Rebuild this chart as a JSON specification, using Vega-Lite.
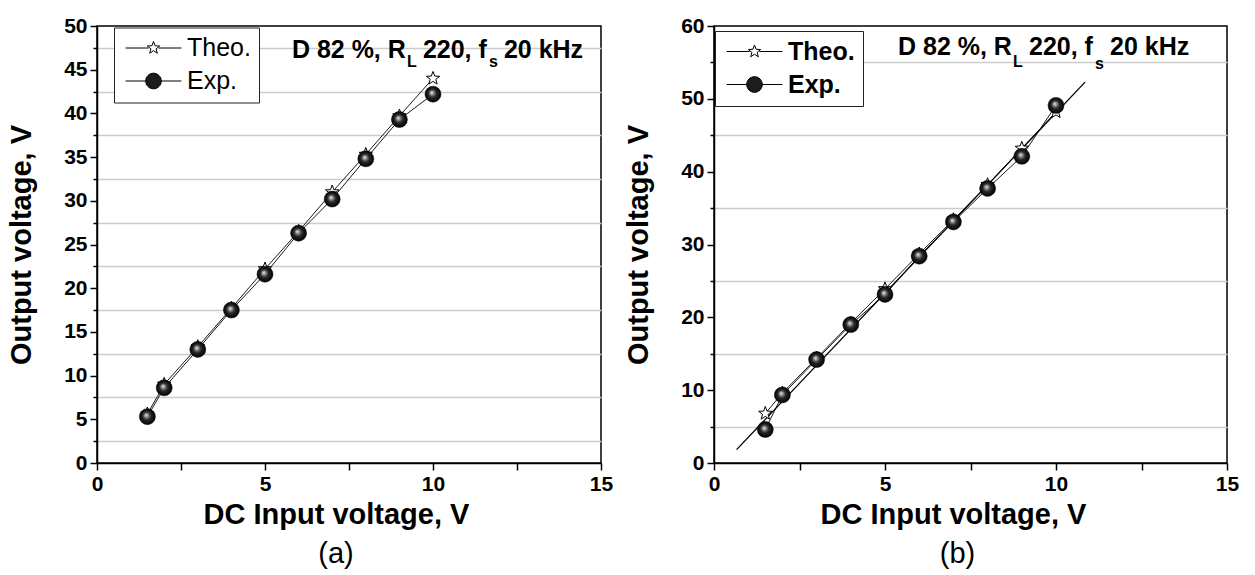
{
  "$schema": "https://vega.github.io/schema/vega-lite/v6.json",
  "background": "white",
  "padding": {"left": 6, "top": 14, "right": 5, "bottom": 0},
  "spacing": 9,
  "resolve": {
    "scale": {"shape": "independent", "fill": "independent", "stroke": "independent"},
    "legend": {"shape": "independent", "fill": "independent", "stroke": "independent"}
  },
  "datasets": {
    "a": [
      {"vin": 1.5, "vout": 5.6, "series": "Theo."},
      {"vin": 2, "vout": 9.0, "series": "Theo."},
      {"vin": 3, "vout": 13.3, "series": "Theo."},
      {"vin": 4, "vout": 17.7, "series": "Theo."},
      {"vin": 5, "vout": 22.2, "series": "Theo."},
      {"vin": 6, "vout": 26.5, "series": "Theo."},
      {"vin": 7, "vout": 31.0, "series": "Theo."},
      {"vin": 8, "vout": 35.3, "series": "Theo."},
      {"vin": 9, "vout": 39.7, "series": "Theo."},
      {"vin": 10, "vout": 44.0, "series": "Theo."},
      {"vin": 1.5, "vout": 5.3, "series": "Exp."},
      {"vin": 2, "vout": 8.6, "series": "Exp."},
      {"vin": 3, "vout": 13.0, "series": "Exp."},
      {"vin": 4, "vout": 17.5, "series": "Exp."},
      {"vin": 5, "vout": 21.6, "series": "Exp."},
      {"vin": 6, "vout": 26.3, "series": "Exp."},
      {"vin": 7, "vout": 30.2, "series": "Exp."},
      {"vin": 8, "vout": 34.8, "series": "Exp."},
      {"vin": 9, "vout": 39.3, "series": "Exp."},
      {"vin": 10, "vout": 42.2, "series": "Exp."}
    ],
    "b": [
      {"vin": 1.5, "vout": 6.8, "series": "Theo."},
      {"vin": 2, "vout": 9.6, "series": "Theo."},
      {"vin": 3, "vout": 14.4, "series": "Theo."},
      {"vin": 4, "vout": 19.2, "series": "Theo."},
      {"vin": 5, "vout": 23.9, "series": "Theo."},
      {"vin": 6, "vout": 28.7, "series": "Theo."},
      {"vin": 7, "vout": 33.4, "series": "Theo."},
      {"vin": 8, "vout": 38.2, "series": "Theo."},
      {"vin": 9, "vout": 43.2, "series": "Theo."},
      {"vin": 10, "vout": 48.2, "series": "Theo."},
      {"vin": 1.5, "vout": 4.6, "series": "Exp."},
      {"vin": 2, "vout": 9.35, "series": "Exp."},
      {"vin": 3, "vout": 14.2, "series": "Exp."},
      {"vin": 4, "vout": 19.0, "series": "Exp."},
      {"vin": 5, "vout": 23.15, "series": "Exp."},
      {"vin": 6, "vout": 28.4, "series": "Exp."},
      {"vin": 7, "vout": 33.1, "series": "Exp."},
      {"vin": 8, "vout": 37.7, "series": "Exp."},
      {"vin": 9, "vout": 42.1, "series": "Exp."},
      {"vin": 10, "vout": 49.1, "series": "Exp."}
    ],
    "bfit": [
      {"vin": 0.66, "vout": 1.83, "series": "Fit"},
      {"vin": 10.85, "vout": 52.3, "series": "Fit"}
    ]
  },
  "config": {
    "font": "Liberation Sans",
    "view": {"stroke": "black", "strokeWidth": 1.5},
    "axis": {
      "domainColor": "black", "domainWidth": 1.5,
      "tickColor": "black", "tickWidth": 1.5,
      "labelFont": "Liberation Sans", "labelFontSize": 21, "labelFontWeight": "bold", "labelColor": "black", "labelPadding": 3,
      "labelFlush": false, "labelOverlap": false,
      "titleFont": "Liberation Sans", "titleFontSize": 29, "titleFontWeight": "bold", "titleColor": "black",
      "gridColor": "#cccccc", "gridWidth": 1.3
    },
    "title": {"font": "Liberation Sans", "fontSize": 29, "fontWeight": "normal", "color": "black"}
  },
  "hconcat": [
    {
      "width": 504,
      "height": 437,
      "title": {"text": "(a)", "orient": "bottom", "dx": -13, "offset": 11},
      "resolve": {"axis": {"y": "independent"}},
      "layer": [
        {
          "data": {"name": "a"},
          "mark": {"type": "line", "color": "black", "strokeWidth": 0.9},
          "encoding": {
            "x": {"field": "vin", "type": "quantitative", "scale": {"domain": [0, 15], "nice": false},
              "axis": {"title": "DC Input voltage, V", "values": [0, 2.5, 5, 7.5, 10, 12.5, 15], "labelExpr": "datum.value % 5 === 0 ? datum.label : ''", "tickSize": 7, "grid": false, "titleX": 239, "titlePadding": 6}},
            "y": {"field": "vout", "type": "quantitative", "scale": {"domain": [0, 50], "nice": false},
              "axis": {"orient": "left", "title": "Output voltage, V", "values": [0, 5, 10, 15, 20, 25, 30, 35, 40, 45, 50],
                "tickSize": 7, "grid": false, "titlePadding": 27}},
            "detail": {"field": "series"}
          }
        },
        {
          "data": {"name": "a"},
          "transform": [{"filter": "datum.series === 'Theo.'"}],
          "mark": {"type": "point", "shape": "M0,-1L0.247,-0.34L0.951,-0.309L0.399,0.13L0.588,0.809L0,0.42L-0.588,0.809L-0.399,0.13L-0.951,-0.309L-0.247,-0.34Z", "size": 196, "filled": true, "fill": "white", "stroke": "black", "strokeWidth": 1, "opacity": 1},
          "encoding": {"x": {"field": "vin", "type": "quantitative"}, "y": {"field": "vout", "type": "quantitative", "axis": null}}
        },
        {
          "data": {"name": "a"},
          "transform": [{"filter": "datum.series === 'Exp.'"}],
          "mark": {"type": "point", "shape": "circle", "size": 256, "filled": true, "opacity": 1, "stroke": "black", "strokeWidth": 0.5,
            "fill": {"gradient": "radial", "x1": 0.42, "y1": 0.4, "r1": 0, "x2": 0.5, "y2": 0.5, "r2": 0.5,
              "stops": [{"offset": 0, "color": "#f6f6f6"}, {"offset": 0.2, "color": "#9a9a9a"}, {"offset": 0.5, "color": "#2a2a2a"}, {"offset": 1, "color": "#000000"}]}},
          "encoding": {"x": {"field": "vin", "type": "quantitative"}, "y": {"field": "vout", "type": "quantitative", "axis": null}}
        },
        {
          "data": {"name": "a"},
          "transform": [{"filter": "datum.vout < 0"}],
          "mark": {"type": "point", "filled": true, "opacity": 1, "size": 169, "strokeWidth": 1},
          "encoding": {
            "x": {"field": "vin", "type": "quantitative"},
            "y": {"field": "vout", "type": "quantitative",
              "axis": {"orient": "left", "title": null, "values": [2.5, 7.5, 12.5, 17.5, 22.5, 27.5, 32.5, 37.5, 42.5, 47.5], "labels": false, "domain": false, "ticks": true, "tickSize": 4, "grid": true}},
            "shape": {"field": "series", "type": "nominal",
              "scale": {"domain": ["Theo.", "Exp."], "range": ["M-4.3,0H-0.75M0.75,0H4.3M0,-1L0.247,-0.34L0.951,-0.309L0.399,0.13L0.588,0.809L0,0.42L-0.588,0.809L-0.399,0.13L-0.951,-0.309L-0.247,-0.34Z", "M-4.3,0H-1.2M1.2,0H4.3M1.2,0A1.2,1.2,0,1,1,-1.2,0A1.2,1.2,0,1,1,1.2,0Z"]},
              "legend": {"title": null, "orient": "none", "legendX": 17, "legendY": 1.5, "direction": "vertical", "strokeColor": "#222", "fillColor": "white", "padding": 8, "rowPadding": 7, "labelFontSize": 25, "labelFont": "Liberation Sans", "labelFontWeight": "normal", "labelColor": "black", "symbolSize": 169, "symbolStrokeWidth": 1, "symbolOffset": 19, "labelOffset": 21, "labelLimit": 300}},
            "fill": {"field": "series", "type": "nominal",
              "scale": {"domain": ["Theo.", "Exp."], "range": ["white", "#1c1c1c"]},
              "legend": {"title": null, "orient": "none", "legendX": 17, "legendY": 1.5, "direction": "vertical", "strokeColor": "#222", "fillColor": "white", "padding": 8, "rowPadding": 7, "labelFontSize": 25, "labelFont": "Liberation Sans", "labelFontWeight": "normal", "labelColor": "black", "symbolSize": 169, "symbolStrokeWidth": 1, "symbolOffset": 19, "labelOffset": 21, "labelLimit": 300}},
            "stroke": {"field": "series", "type": "nominal",
              "scale": {"domain": ["Theo.", "Exp."], "range": ["black", "black"]},
              "legend": {"title": null, "orient": "none", "legendX": 17, "legendY": 1.5, "direction": "vertical", "strokeColor": "#222", "fillColor": "white", "padding": 8, "rowPadding": 7, "labelFontSize": 25, "labelFont": "Liberation Sans", "labelFontWeight": "normal", "labelColor": "black", "symbolSize": 169, "symbolStrokeWidth": 1, "symbolOffset": 19, "labelOffset": 21, "labelLimit": 300}}
          }
        },
        {
          "data": {"values": [{"t": "D 82 %, R"}]},
          "mark": {"type": "text", "align": "left", "baseline": "alphabetic", "fontSize": 25, "fontWeight": "bold", "color": "black", "dx": 0},
          "encoding": {"x": {"datum": 5.8}, "y": {"datum": 46.3, "axis": null}, "text": {"field": "t"}}
        },
        {
          "data": {"values": [{"t": "L"}]},
          "mark": {"type": "text", "align": "left", "baseline": "alphabetic", "fontSize": 16, "fontWeight": "bold", "color": "black", "dx": 115, "dy": 9},
          "encoding": {"x": {"datum": 5.8}, "y": {"datum": 46.3, "axis": null}, "text": {"field": "t"}}
        },
        {
          "data": {"values": [{"t": "220, f"}]},
          "mark": {"type": "text", "align": "left", "baseline": "alphabetic", "fontSize": 25, "fontWeight": "bold", "color": "black", "dx": 131},
          "encoding": {"x": {"datum": 5.8}, "y": {"datum": 46.3, "axis": null}, "text": {"field": "t"}}
        },
        {
          "data": {"values": [{"t": "s"}]},
          "mark": {"type": "text", "align": "left", "baseline": "alphabetic", "fontSize": 16, "fontWeight": "bold", "color": "black", "dx": 197, "dy": 9},
          "encoding": {"x": {"datum": 5.8}, "y": {"datum": 46.3, "axis": null}, "text": {"field": "t"}}
        },
        {
          "data": {"values": [{"t": "20 kHz"}]},
          "mark": {"type": "text", "align": "left", "baseline": "alphabetic", "fontSize": 25, "fontWeight": "bold", "color": "black", "dx": 212},
          "encoding": {"x": {"datum": 5.8}, "y": {"datum": 46.3, "axis": null}, "text": {"field": "t"}}
        }
      ]
    },
    {
      "width": 513,
      "height": 437,
      "title": {"text": "(b)", "orient": "bottom", "dx": -13, "offset": 11},
      "resolve": {"axis": {"y": "independent"}},
      "layer": [
        {
          "data": {"name": "b"},
          "mark": {"type": "line", "color": "black", "strokeWidth": 0.9},
          "encoding": {
            "x": {"field": "vin", "type": "quantitative", "scale": {"domain": [0, 15], "nice": false},
              "axis": {"title": "DC Input voltage, V", "values": [0, 2.5, 5, 7.5, 10, 12.5, 15], "labelExpr": "datum.value % 5 === 0 ? datum.label : ''", "tickSize": 7, "grid": false, "titleX": 239, "titlePadding": 6}},
            "y": {"field": "vout", "type": "quantitative", "scale": {"domain": [0, 60], "nice": false},
              "axis": {"orient": "left", "title": "Output voltage, V", "values": [0, 10, 20, 30, 40, 50, 60],
                "tickSize": 7, "grid": false, "titlePadding": 27}},
            "detail": {"field": "series"}
          }
        },
        {
          "data": {"name": "bfit"},
          "mark": {"type": "line", "color": "black", "strokeWidth": 1.3},
          "encoding": {"x": {"field": "vin", "type": "quantitative"}, "y": {"field": "vout", "type": "quantitative", "axis": null}}
        },
        {
          "data": {"name": "b"},
          "transform": [{"filter": "datum.series === 'Theo.'"}],
          "mark": {"type": "point", "shape": "M0,-1L0.247,-0.34L0.951,-0.309L0.399,0.13L0.588,0.809L0,0.42L-0.588,0.809L-0.399,0.13L-0.951,-0.309L-0.247,-0.34Z", "size": 196, "filled": true, "fill": "white", "stroke": "black", "strokeWidth": 1, "opacity": 1},
          "encoding": {"x": {"field": "vin", "type": "quantitative"}, "y": {"field": "vout", "type": "quantitative", "axis": null}}
        },
        {
          "data": {"name": "b"},
          "transform": [{"filter": "datum.series === 'Exp.'"}],
          "mark": {"type": "point", "shape": "circle", "size": 256, "filled": true, "opacity": 1, "stroke": "black", "strokeWidth": 0.5,
            "fill": {"gradient": "radial", "x1": 0.42, "y1": 0.4, "r1": 0, "x2": 0.5, "y2": 0.5, "r2": 0.5,
              "stops": [{"offset": 0, "color": "#f6f6f6"}, {"offset": 0.2, "color": "#9a9a9a"}, {"offset": 0.5, "color": "#2a2a2a"}, {"offset": 1, "color": "#000000"}]}},
          "encoding": {"x": {"field": "vin", "type": "quantitative"}, "y": {"field": "vout", "type": "quantitative", "axis": null}}
        },
        {
          "data": {"name": "b"},
          "transform": [{"filter": "datum.vout < 0"}],
          "mark": {"type": "point", "filled": true, "opacity": 1, "size": 169, "strokeWidth": 1},
          "encoding": {
            "x": {"field": "vin", "type": "quantitative"},
            "y": {"field": "vout", "type": "quantitative",
              "axis": {"orient": "left", "title": null, "values": [5, 15, 25, 35, 45, 55], "labels": false, "domain": false, "ticks": true, "tickSize": 4, "grid": true}},
            "shape": {"field": "series", "type": "nominal",
              "scale": {"domain": ["Theo.", "Exp."], "range": ["M-4.3,0H-0.75M0.75,0H4.3M0,-1L0.247,-0.34L0.951,-0.309L0.399,0.13L0.588,0.809L0,0.42L-0.588,0.809L-0.399,0.13L-0.951,-0.309L-0.247,-0.34Z", "M-4.3,0H-1.2M1.2,0H4.3M1.2,0A1.2,1.2,0,1,1,-1.2,0A1.2,1.2,0,1,1,1.2,0Z"]},
              "legend": {"title": null, "orient": "none", "legendX": 1, "legendY": 5, "direction": "vertical", "strokeColor": "#222", "fillColor": "white", "padding": 8, "rowPadding": 7, "labelFontSize": 25, "labelFont": "Liberation Sans", "labelFontWeight": "bold", "labelColor": "black", "symbolSize": 169, "symbolStrokeWidth": 1, "symbolOffset": 19, "labelOffset": 21, "labelLimit": 300}},
            "fill": {"field": "series", "type": "nominal",
              "scale": {"domain": ["Theo.", "Exp."], "range": ["white", "#1c1c1c"]},
              "legend": {"title": null, "orient": "none", "legendX": 1, "legendY": 5, "direction": "vertical", "strokeColor": "#222", "fillColor": "white", "padding": 8, "rowPadding": 7, "labelFontSize": 25, "labelFont": "Liberation Sans", "labelFontWeight": "bold", "labelColor": "black", "symbolSize": 169, "symbolStrokeWidth": 1, "symbolOffset": 19, "labelOffset": 21, "labelLimit": 300}},
            "stroke": {"field": "series", "type": "nominal",
              "scale": {"domain": ["Theo.", "Exp."], "range": ["black", "black"]},
              "legend": {"title": null, "orient": "none", "legendX": 1, "legendY": 5, "direction": "vertical", "strokeColor": "#222", "fillColor": "white", "padding": 8, "rowPadding": 7, "labelFontSize": 25, "labelFont": "Liberation Sans", "labelFontWeight": "bold", "labelColor": "black", "symbolSize": 169, "symbolStrokeWidth": 1, "symbolOffset": 19, "labelOffset": 21, "labelLimit": 300}}
          }
        },
        {
          "data": {"values": [{"t": "D 82 %, R"}]},
          "mark": {"type": "text", "align": "left", "baseline": "alphabetic", "fontSize": 25, "fontWeight": "bold", "color": "black", "dx": 0},
          "encoding": {"x": {"datum": 5.38}, "y": {"datum": 56.0, "axis": null}, "text": {"field": "t"}}
        },
        {
          "data": {"values": [{"t": "L"}]},
          "mark": {"type": "text", "align": "left", "baseline": "alphabetic", "fontSize": 16, "fontWeight": "bold", "color": "black", "dx": 115, "dy": 12},
          "encoding": {"x": {"datum": 5.38}, "y": {"datum": 56.0, "axis": null}, "text": {"field": "t"}}
        },
        {
          "data": {"values": [{"t": "220, f"}]},
          "mark": {"type": "text", "align": "left", "baseline": "alphabetic", "fontSize": 25, "fontWeight": "bold", "color": "black", "dx": 131},
          "encoding": {"x": {"datum": 5.38}, "y": {"datum": 56.0, "axis": null}, "text": {"field": "t"}}
        },
        {
          "data": {"values": [{"t": "s"}]},
          "mark": {"type": "text", "align": "left", "baseline": "alphabetic", "fontSize": 16, "fontWeight": "bold", "color": "black", "dx": 197, "dy": 14},
          "encoding": {"x": {"datum": 5.38}, "y": {"datum": 56.0, "axis": null}, "text": {"field": "t"}}
        },
        {
          "data": {"values": [{"t": "20 kHz"}]},
          "mark": {"type": "text", "align": "left", "baseline": "alphabetic", "fontSize": 25, "fontWeight": "bold", "color": "black", "dx": 212},
          "encoding": {"x": {"datum": 5.38}, "y": {"datum": 56.0, "axis": null}, "text": {"field": "t"}}
        }
      ]
    }
  ]
}
